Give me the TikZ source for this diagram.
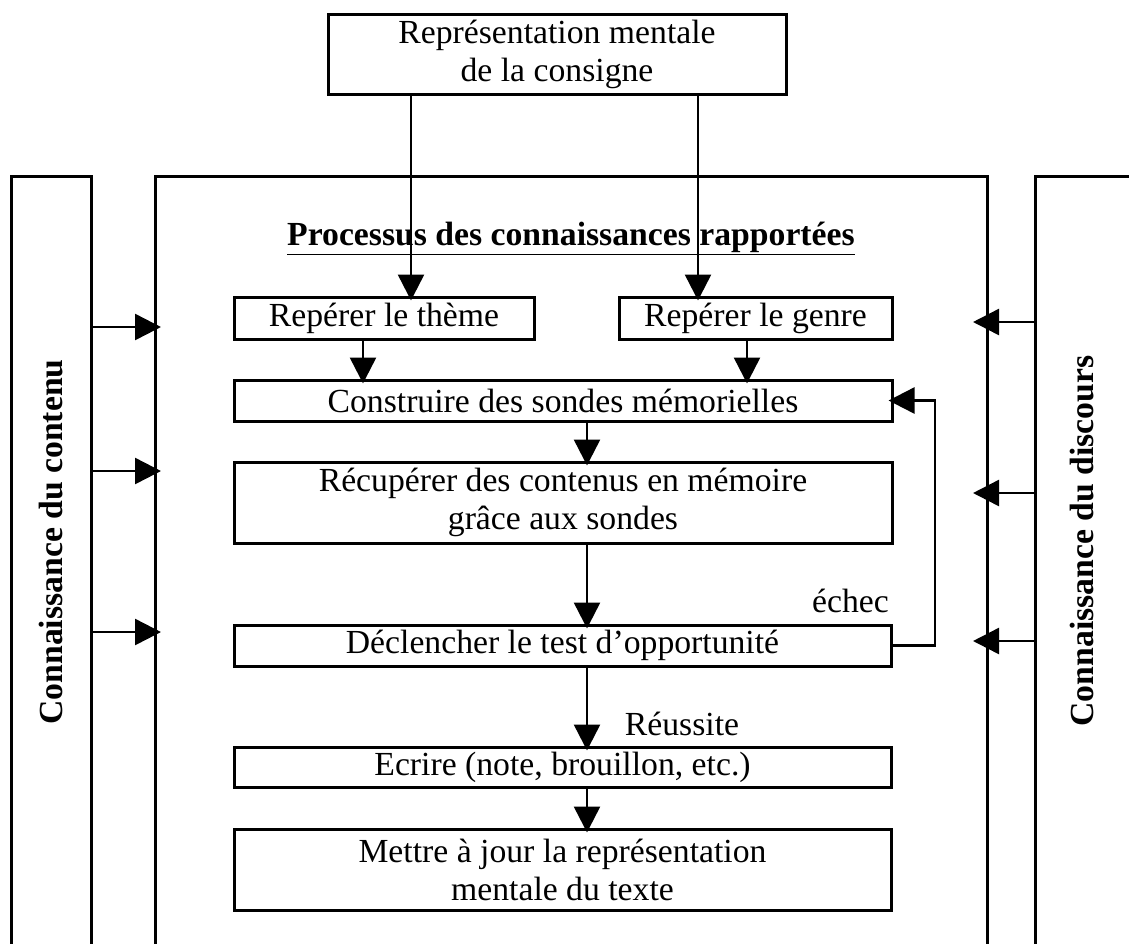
\documentclass[tikz,border=0pt]{standalone}
\usepackage{fontspec}
\setmainfont{Liberation Serif}
\usetikzlibrary{arrows.meta}
\begin{document}
\begin{tikzpicture}[x=1pt,y=-1pt,
  txt/.style={font=\fontsize{33.7}{38}\selectfont},
  box/.style={txt,draw,line width=3pt,inner sep=0pt,align=center},
  arr/.style={line width=2.5pt,-{Triangle[length=26pt,width=26pt]}},
  wall/.style={line width=3pt},
  side/.style={font=\fontsize{33.7}{38}\selectfont\bfseries,inner sep=0pt,rotate=90}]
\useasboundingbox (0,0) rectangle (1129,943);
\clip (0,0) rectangle (1129,943);

% outer frames (open at the bottom)
\draw[wall] (11,960) -- (11,176) -- (91,176) -- (91,960);
\draw[wall] (155,960) -- (155,176) -- (987,176) -- (987,960);
\draw[wall] (1035,960) -- (1035,176) -- (1140,176);

% side labels
\node[side] (contenu) at (51,542) {Connaissance du contenu};
\node[side] (discours) at (1082,541) {Connaissance du discours};

% title of the central process
\node[txt,font=\fontsize{33.7}{38}\selectfont\bfseries,inner sep=0pt] (titre) at (571,238)
  {\underline{Processus des connaissances rapportées}};

% boxes
\node[box,minimum width=458pt,minimum height=80pt] (consigne) at (557,54) {Représentation mentale\\de la consigne};
\node[box,minimum width=300pt,minimum height=42pt] (theme) at (384,318) {Repérer le thème};
\node[box,minimum width=273pt,minimum height=42pt] (genre) at (755.5,318) {Repérer le genre};
\node[box,minimum width=658pt,minimum height=41pt] (sondes) at (563,400.5) {Construire des sondes mémorielles};
\node[box,minimum width=658pt,minimum height=81pt] (recup) at (563,502.5) {Récupérer des contenus en mémoire\\grâce aux sondes};
\node[box,minimum width=657pt,minimum height=41pt] (test) at (562.5,645.5) {Déclencher le test d’opportunité};
\node[box,minimum width=657pt,minimum height=40pt] (ecrire) at (562.5,767) {Ecrire (note, brouillon, etc.)};
\node[box,minimum width=657pt,minimum height=81pt] (maj) at (562.5,869.5) {Mettre à jour la représentation\\mentale du texte};

% branch labels
\node[txt,inner sep=0pt,anchor=base east] (echec) at (889,612) {échec};
\node[txt,inner sep=0pt,anchor=base] (reussite) at (682,735) {Réussite};

% vertical guides for the connectors
\coordinate (xa) at (411,0);
\coordinate (xb) at (698,0);
\coordinate (xc) at (363,0);
\coordinate (xd) at (747,0);
\coordinate (xe) at (587,0);
\coordinate (xf) at (935,0);

% main flow
\draw[arr] (xa |- consigne.south) -- ([yshift=-5pt]xa |- theme.north);
\draw[arr] (xb |- consigne.south) -- ([yshift=-5pt]xb |- genre.north);
\draw[arr] (xc |- theme.south) -- ([yshift=-5pt]xc |- sondes.north);
\draw[arr] (xd |- genre.south) -- ([yshift=-5pt]xd |- sondes.north);
\draw[arr] (xe |- sondes.south) -- ([yshift=-5pt]xe |- recup.north);
\draw[arr] (xe |- recup.south) -- ([yshift=-5pt]xe |- test.north);
\draw[arr] (xe |- test.south) -- ([yshift=-5pt]xe |- ecrire.north);
\draw[arr] (xe |- ecrire.south) -- ([yshift=-5pt]xe |- maj.north);

% failure loop back to the probes
\draw[arr] (test.east) -- (xf |- test.east) -- (xf |- sondes.east) -- ([xshift=-5pt]sondes.east);

% knowledge inputs from the side frames
\coordinate (l1) at (91,327);  \coordinate (l1t) at (161,327);
\coordinate (l2) at (91,471);  \coordinate (l2t) at (161,471);
\coordinate (l3) at (91,632);  \coordinate (l3t) at (161,632);
\coordinate (r1) at (1035,322); \coordinate (r1t) at (973,322);
\coordinate (r2) at (1035,493); \coordinate (r2t) at (973,493);
\coordinate (r3) at (1035,641); \coordinate (r3t) at (973,641);
\foreach \s in {l1,l2,l3,r1,r2,r3} \draw[arr] (\s) -- (\s t);
\end{tikzpicture}
\end{document}
